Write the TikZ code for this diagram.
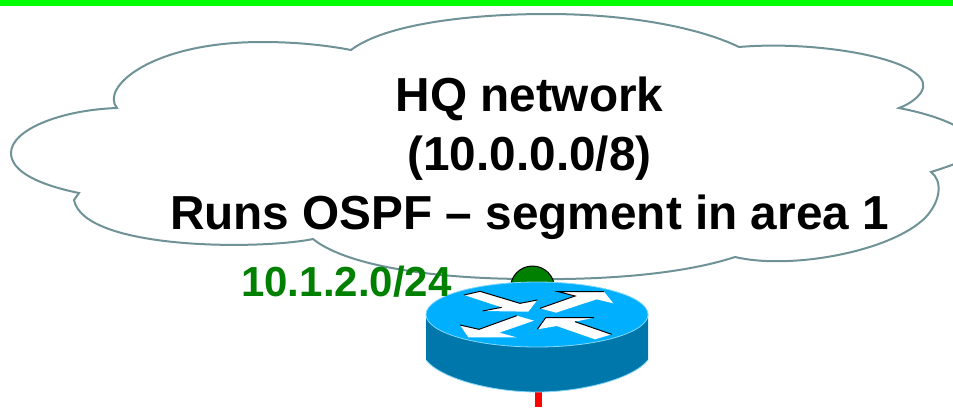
\documentclass[tikz,border=0pt]{standalone}
\usepackage{fontspec}
\setmainfont{Liberation Sans}
\definecolor{cloudline}{RGB}{111,146,150}
\definecolor{bargreen}{RGB}{0,255,0}
\definecolor{labelgreen}{RGB}{0,128,0}
\definecolor{routertop}{RGB}{0,176,255}
\definecolor{routerside}{RGB}{0,119,170}
\definecolor{routeredge}{RGB}{130,215,250}
\tikzset{
  cloudshape/.style={draw=cloudline,line width=1.5pt,fill=white,line join=miter},
  routeroutline/.style={draw=routeredge,line width=.6pt},
  arrowfill/.style={fill=white,draw=none},
  arrowedge/.style={draw=black,line width=.75pt},
  title/.style={font=\fontsize{35.8}{43.9}\selectfont\bfseries,align=center,text=black,inner sep=0pt},
  netlabel/.style={font=\fontsize{31.5}{36}\selectfont\bfseries,text=labelgreen,inner sep=0pt},
}
\begin{document}
\begin{tikzpicture}[x=0.75pt,y=-0.75pt]
\useasboundingbox (0,0) rectangle (953,407);
\clip (0,0) rectangle (953,407);
\fill[white] (0,0) rectangle (953,407);
\fill[bargreen] (0,0) rectangle (953,6);
% cloud
\coordinate (ca) at (117,108);
\coordinate (cb) at (351,50);
\coordinate (cc) at (739,47);
\coordinate (cd) at (899,108);
\coordinate (ce) at (931,172);
\coordinate (cf) at (735,257);
\coordinate (cg) at (313,239);
\coordinate (ch) at (79,193);
\path[cloudshape] (ca)
  .. controls (100,88) and (150,42) .. (262,42)
  .. controls (295,42) and (325,45) .. (cb)
  .. controls (385,24) and (470,14) .. (547,14)
  .. controls (630,14) and (700,28) .. (cc)
  .. controls (820,40) and (930,60) .. (923,88)
  .. controls (921,96) and (910,104) .. (cd)
  .. controls (940,116) and (975,130) .. (975,148)
  .. controls (975,158) and (950,166) .. (ce)
  .. controls (942,180) and (942,200) .. (925,218)
  .. controls (890,252) and (790,270) .. (cf)
  .. controls (680,275) and (600,280) .. (530,279)
  .. controls (430,279) and (345,265) .. (cg)
  .. controls (260,250) and (84,250) .. (74,200)
  -- (ch)
  .. controls (40,185) and (11,172) .. (11,153)
  .. controls (11,130) and (60,110) .. (ca) -- cycle;
% interface dot
\coordinate (dot) at (532.5,288);
\fill[labelgreen,draw=black,line width=.75pt] (dot) circle[radius=22];
% red link
\coordinate (linkstart) at (538.5,385);
\coordinate (linkend) at (538.5,407);
\draw[red,line width=5.2pt] (linkstart) -- (linkend);
% router
\fill[routerside] (426,314) -- (426,360)
  .. controls (440,378) and (490,392) .. (537,392)
  .. controls (584,392) and (634,378) .. (648,360) -- (648,314) -- cycle;
\draw[routeroutline] (426,360) .. controls (440,378) and (490,392) .. (537,392)
  .. controls (584,392) and (634,378) .. (648,360);
\path[fill=routertop,routeroutline] (537,314.5) ellipse[x radius=111,y radius=32.5];
\begin{scope}[shift={(400,250)},x=0.25pt,y=-0.25pt]
  \fill[arrowfill] (192,135) -- (240,124) -- (360,160) -- (412,150) -- (385,185) -- (248,183) -- (305,172) -- cycle;
  \draw[arrowedge] (192,135) -- (240,124) -- (360,160) -- (412,150);
  \draw[arrowedge] (248,183) -- (305,172);
  \fill[arrowfill] (420,175) -- (525,138) -- (475,125) -- (612,125) -- (640,160) -- (590,148) -- (468,188) -- cycle;
  \draw[arrowedge] (420,175) -- (525,138) -- (475,125) -- (612,125);
  \fill[arrowfill] (180,225) -- (237,238) -- (350,197) -- (402,212) -- (298,248) -- (350,262) -- (205,262) -- cycle;
  \draw[arrowedge] (180,225) -- (237,238) -- (350,197);
  \fill[arrowfill] (412,238) -- (437,203) -- (582,203) -- (525,215) -- (635,253) -- (585,268) -- (470,228) -- cycle;
  \draw[arrowedge] (412,238) -- (437,203) -- (582,203);
  \draw[arrowedge] (525,215) -- (635,253);
\end{scope}
% labels
\node[title,anchor=base] (cloudtext) at (529.5,229) {HQ network\\(10.0.0.0/8)\\Runs OSPF – segment in area 1};
\node[netlabel,anchor=base west] (netaddr) at (241,296) {10.1.2.0/24};
\end{tikzpicture}
\end{document}
